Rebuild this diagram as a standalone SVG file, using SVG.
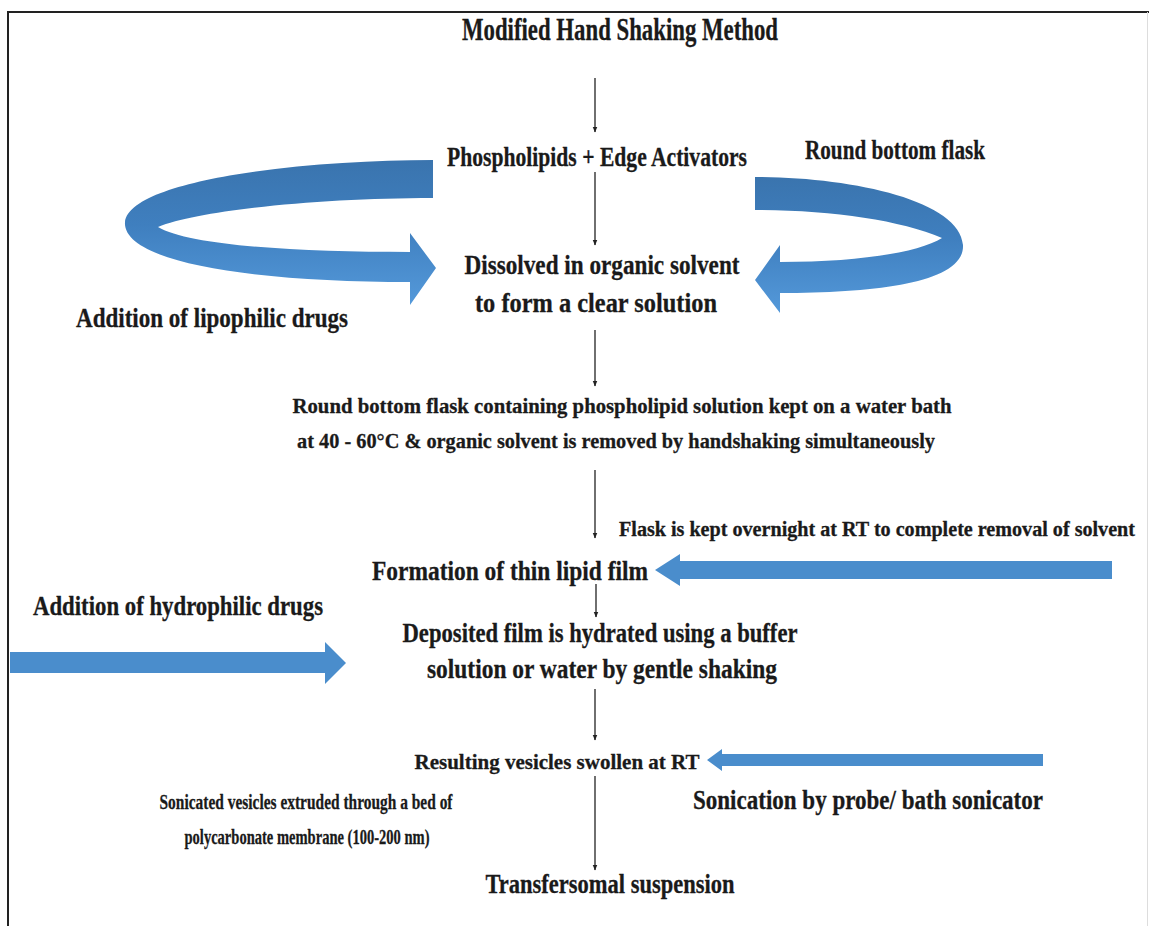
<svg xmlns="http://www.w3.org/2000/svg" width="1149" height="926" viewBox="0 0 1149 926">
<defs>
<style>
.c{stroke:#222;stroke-width:1.3;fill:none;marker-end:url(#ah)}
.blue{fill:#4a8dcc}
</style>
<marker id="ah" viewBox="0 0 10 10" refX="9" refY="5" markerWidth="6" markerHeight="8" orient="auto" markerUnits="userSpaceOnUse">
<path d="M0,1 L10,5 L0,9 Z" fill="#222"/>
</marker>
<linearGradient id="gl" x1="0" y1="0" x2="0" y2="1">
<stop offset="0" stop-color="#3a74ae"/>
<stop offset="0.45" stop-color="#3f7fbf"/>
<stop offset="1" stop-color="#5499da"/>
</linearGradient>
</defs>
<rect width="1149" height="926" fill="#fff"/>
<g id="frame">
<path d="M8,926 L8,12 L1149,12" stroke="#222" stroke-width="2" fill="none"/>
<line x1="1147.5" y1="12" x2="1147.5" y2="926" stroke="#ddd" stroke-width="1"/>
</g>
<g id="connectors">
<line class="c" x1="595" y1="78" x2="595" y2="132"/>
<line class="c" x1="595" y1="172" x2="595" y2="245"/>
<line class="c" x1="595" y1="330" x2="595" y2="386"/>
<line class="c" x1="595" y1="470" x2="595" y2="538"/>
<line class="c" x1="596" y1="584" x2="596" y2="617"/>
<line class="c" x1="595" y1="689" x2="595" y2="740"/>
<line class="c" x1="595" y1="776" x2="595" y2="870"/>
</g>
<g id="curved-left">
<path fill="url(#gl)" d="M433,160 C 300,160 130,180 125,222 C 122,262 250,282 410,282 L410,305 L436,268 L410,233 L410,252 C 300,252 190,246 158,227 C 200,210 320,198 433,198 Z"/>
</g>
<g id="curved-right">
<path fill="url(#gl)" d="M755,177 C 850,177 960,200 963,245 C 965,282 880,293 780,293 L780,313 L755,280 L780,245 L780,262 C 860,262 920,252 942,238 C 900,220 830,210 755,210 Z"/>
</g>
<g id="arrow-flask">
<path class="blue" d="M1112,561 L680,561 L680,554 L655,570 L680,586 L680,579 L1112,579 Z"/>
</g>
<g id="arrow-hydrophilic">
<path class="blue" d="M10,652 L325,652 L325,642 L346,663 L325,684 L325,673 L10,673 Z"/>
</g>
<g id="arrow-sonication">
<path class="blue" d="M1043,754 L722,754 L722,749 L707,760 L722,771 L722,766 L1043,766 Z"/>
</g>
<g font-family="Liberation Serif, Times New Roman, serif" font-weight="bold" fill="#1a1a1a" stroke="#1a1a1a" stroke-width="0.3" text-anchor="middle">
<g id="title"><text font-size="31" x="620" y="40" textLength="316" lengthAdjust="spacingAndGlyphs">Modified Hand Shaking Method</text></g>
<g id="phospholipids"><text font-size="27" x="597" y="166" textLength="300" lengthAdjust="spacingAndGlyphs">Phospholipids + Edge Activators</text></g>
<g id="rbf-label"><text font-size="27" x="895" y="159" textLength="180" lengthAdjust="spacingAndGlyphs">Round bottom flask</text></g>
<g id="dissolved">
<text font-size="27" x="602" y="274" textLength="275" lengthAdjust="spacingAndGlyphs">Dissolved in organic solvent</text>
<text font-size="27" x="596" y="312" textLength="242" lengthAdjust="spacingAndGlyphs">to form a clear solution</text>
</g>
<g id="lipophilic"><text font-size="27" x="212" y="327" textLength="272" lengthAdjust="spacingAndGlyphs">Addition of lipophilic drugs</text></g>
<g id="water-bath">
<text font-size="22" x="622" y="413" textLength="659" lengthAdjust="spacingAndGlyphs">Round bottom flask containing phospholipid solution kept on a water bath</text>
<text font-size="22" x="616" y="448" textLength="638" lengthAdjust="spacingAndGlyphs">at 40 - 60°C &amp; organic solvent is removed by handshaking simultaneously</text>
</g>
<g id="overnight"><text font-size="20" x="877" y="536" textLength="516" lengthAdjust="spacingAndGlyphs">Flask is kept overnight at RT to complete removal of solvent</text></g>
<g id="thin-film"><text font-size="27" x="510" y="580" textLength="276" lengthAdjust="spacingAndGlyphs">Formation of thin lipid film</text></g>
<g id="hydrophilic"><text font-size="27" x="178" y="615" textLength="290" lengthAdjust="spacingAndGlyphs">Addition of hydrophilic drugs</text></g>
<g id="hydrated">
<text font-size="27" x="600" y="642" textLength="395" lengthAdjust="spacingAndGlyphs">Deposited film is hydrated using a buffer</text>
<text font-size="27" x="602" y="678" textLength="350" lengthAdjust="spacingAndGlyphs">solution or water by gentle shaking</text>
</g>
<g id="swollen"><text font-size="22" x="557" y="769" textLength="285" lengthAdjust="spacingAndGlyphs">Resulting vesicles swollen at RT</text></g>
<g id="sonication"><text font-size="27" x="868" y="809" textLength="350" lengthAdjust="spacingAndGlyphs">Sonication by probe/ bath sonicator</text></g>
<g id="extruded">
<text font-size="22" x="306" y="809" textLength="293" lengthAdjust="spacingAndGlyphs">Sonicated vesicles extruded through a bed of</text>
<text font-size="22" x="307" y="844" textLength="245" lengthAdjust="spacingAndGlyphs">polycarbonate membrane (100-200 nm)</text>
</g>
<g id="transfersomal"><text font-size="27" x="610" y="893" textLength="249" lengthAdjust="spacingAndGlyphs">Transfersomal suspension</text></g>
</g>
</svg>
